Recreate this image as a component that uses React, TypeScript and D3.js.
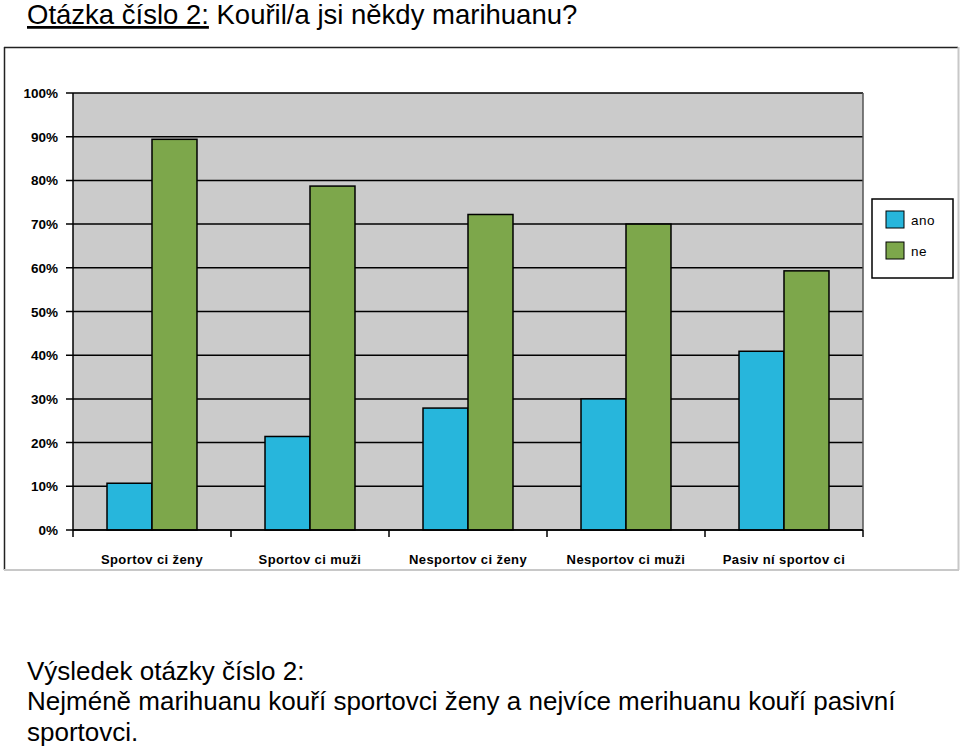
import React from "react";
import * as d3 from "d3";

const categories = ["Sportov ci ženy", "Sportov ci muži", "Nesportov ci ženy", "Nesportov ci muži", "Pasiv ní sportov ci"];
const seriesNames = ["ano", "ne"];
const anoValues = [10.7, 21.4, 27.9, 30.0, 40.9];
const neValues = [89.4, 78.7, 72.2, 70.0, 59.3];
const yTicks = [0, 10, 20, 30, 40, 50, 60, 70, 80, 90, 100];
const colors = ["#27B6DC", "#7DA74B"];

const W = 960;
const H = 749;
const plot = { left: 73, right: 863, top: 93, bottom: 530 };

export default function App() {
  const x = d3.scaleBand<string>().domain(categories).range([plot.left, plot.right]).paddingInner(0).paddingOuter(0);
  const inner = d3.scaleBand<string>().domain(seriesNames).range([0, x.bandwidth()]).paddingInner(0).paddingOuter(0.756);
  const y = d3.scaleLinear().domain([0, 100]).range([plot.bottom, plot.top]);
  const series = [anoValues, neValues];
  const font = "Liberation Sans, Arial, sans-serif";

  return (
    <svg width={W} height={H} style={{ display: "block", position: "absolute", left: 0, top: 0 }} fontFamily={font}>
      <rect x={0} y={0} width={W} height={H} fill="#fff" />
      <text x={27} y={24} fontSize={27.5} fill="#000">
        <tspan textDecoration="underline">Otázka číslo 2:</tspan>
        <tspan> Kouřil/a jsi někdy marihuanu?</tspan>
      </text>
      {/* frame */}
      <line x1={4} y1={47.5} x2={958} y2={47.5} stroke="#222" strokeWidth={1.5} />
      <line x1={4.5} y1={47} x2={4.5} y2={570} stroke="#222" strokeWidth={1.5} />
      <line x1={4} y1={570} x2={959} y2={570} stroke="#c8c8c8" strokeWidth={2} />
      <line x1={958.5} y1={47} x2={958.5} y2={570} stroke="#c8c8c8" strokeWidth={2} />

      <rect x={plot.left} y={plot.top} width={plot.right - plot.left} height={plot.bottom - plot.top} fill="#CBCBCB" />
      {yTicks.map((t) => (
        <g key={t}>
          <line x1={plot.left - 7} x2={plot.right} y1={y(t)} y2={y(t)} stroke="#000" strokeWidth={1.5} />
          <text x={58} y={y(t) + 5} textAnchor="end" fontSize={13.5} fontWeight="bold" fill="#000">{t}%</text>
        </g>
      ))}
      <line x1={plot.right} x2={plot.right} y1={plot.top} y2={plot.bottom} stroke="#555" strokeWidth={1.5} />
      {categories.map((c, i) =>
        series.map((vals, s) => {
          const bx = (x(c) ?? 0) + (inner(seriesNames[s]) ?? 0);
          return (
            <rect key={c + s} x={bx} y={y(vals[i])} width={inner.bandwidth()} height={y(0) - y(vals[i])}
              fill={colors[s]} stroke="#000" strokeWidth={1.5} />
          );
        })
      )}
      <line x1={plot.left} x2={plot.left} y1={plot.top} y2={plot.bottom} stroke="#000" strokeWidth={1.5} />
      <line x1={plot.left} x2={plot.right} y1={plot.bottom} y2={plot.bottom} stroke="#000" strokeWidth={1.5} />
      {[...categories.map((c) => x(c) ?? 0), plot.right].map((tx, i) => (
        <line key={i} x1={tx} x2={tx} y1={plot.bottom} y2={plot.bottom + 7} stroke="#000" strokeWidth={1.5} />
      ))}
      {categories.map((c) => (
        <text key={c} x={(x(c) ?? 0) + x.bandwidth() / 2} y={564} textAnchor="middle" fontSize={13} fontWeight="bold" letterSpacing={0.4} fill="#000">{c}</text>
      ))}

      {/* legend */}
      <rect x={872} y={199} width={81} height={79} fill="#fff" stroke="#000" strokeWidth={1.5} />
      {seriesNames.map((n, i) => (
        <g key={n}>
          <rect x={886} y={211 + i * 31} width={18} height={17} fill={colors[i]} stroke="#000" strokeWidth={1} />
          <text x={911} y={225 + i * 31} fontSize={13.5} letterSpacing={0.5} fill="#000">{n}</text>
        </g>
      ))}

      <text fontSize={26} fill="#000">
        <tspan x={27} y={680}>Výsledek otázky číslo 2:</tspan>
        <tspan x={27} y={710}>Nejméně marihuanu kouří sportovci ženy a nejvíce merihuanu kouří pasivní</tspan>
        <tspan x={27} y={741}>sportovci.</tspan>
      </text>
    </svg>
  );
}
